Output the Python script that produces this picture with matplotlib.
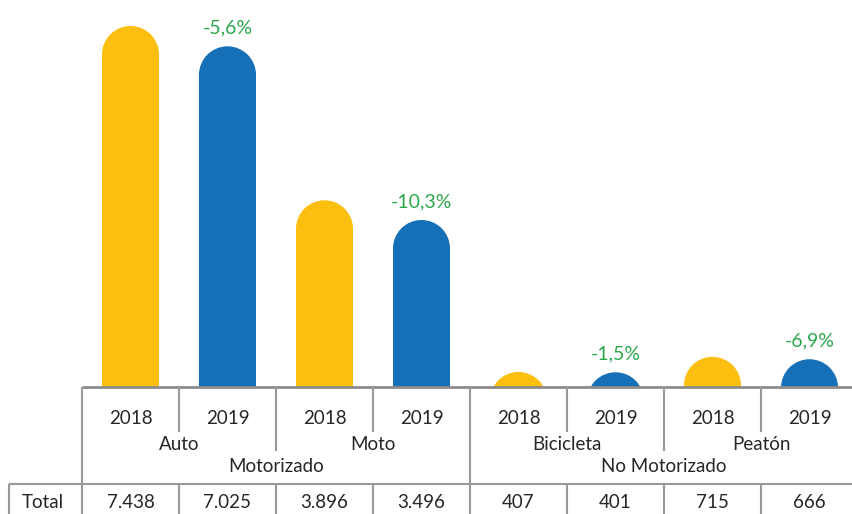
import matplotlib
matplotlib.use("Agg")
import matplotlib.pyplot as plt
from matplotlib.patches import Ellipse

plt.rcParams['font.family'] = ['Lato', 'DejaVu Sans']

# ---- data ----
years = ["2018", "2019", "2018", "2019", "2018", "2019", "2018", "2019"]
categories = ["Auto", "Moto", "Bicicleta", "Peatón"]
groups = ["Motorizado", "No Motorizado"]
values = [7438, 7025, 3896, 3496, 407, 401, 715, 666]
value_labels = ["7.438", "7.025", "3.896", "3.496", "407", "401", "715", "666"]
pct_labels = ["", "-5,6%", "", "-10,3%", "", "-1,5%", "", "-6,9%"]
row_label = "Total"

YELLOW = "#FCBF10"
BLUE = "#1570B8"
GREEN = "#2BA84A"
GRID = "#999999"
TXT = "#262626"

W, H = 852, 514
fig = plt.figure(figsize=(W / 100, H / 100), dpi=100)

LEFT_PX = 82
SLOT_PX = 97
BASE_PX = 387
n = len(values)

# main bar axes
ax = fig.add_axes([LEFT_PX / W, (H - BASE_PX) / H, n * SLOT_PX / W, BASE_PX / H])
ax.set_xlim(-0.5, n - 0.5)
y0, y1 = 101.6, 7966
ax.set_ylim(y0, y1)
ax.axis('off')

px_per_unit = BASE_PX / (y1 - y0)
bar_w = 0.588
r_px = bar_w * SLOT_PX / 2
ry = r_px / px_per_unit

for i, v in enumerate(values):
    c = YELLOW if i % 2 == 0 else BLUE
    ax.bar(i, v - ry, width=bar_w, bottom=0, color=c, linewidth=0)
    e = Ellipse((i, v - ry), width=bar_w, height=2 * ry, facecolor=c, linewidth=0)
    ax.add_patch(e)
    if pct_labels[i]:
        ax.annotate(pct_labels[i], xy=(i, v), xytext=(0, 9.4), textcoords='offset points',
                    ha='center', va='baseline', color=GREEN, fontsize=14)

# table overlay in pixel coords
t = fig.add_axes([0, 0, 1, 1], zorder=5)
t.set_xlim(0, W)
t.set_ylim(H, 0)
t.axis('off')
t.patch.set_alpha(0)

lw = 1.5
def vline(x, ya, yb):
    t.plot([x, x], [ya, yb], color=GRID, lw=lw, solid_capstyle='butt')
def hline(y, xa, xb, lwid=lw, col=GRID):
    t.plot([xa, xb], [y, y], color=col, lw=lwid, solid_capstyle='butt')

hline(BASE_PX, LEFT_PX, W + 10, lwid=2.0, col="#8C8C8C")
hline(484, 9, W + 10)
vline(9, 484, H + 5)

for k in range(n + 1):
    x = LEFT_PX + SLOT_PX * k
    if k % 4 == 0:
        vline(x, BASE_PX, H + 5)
    elif k % 2 == 0:
        vline(x, BASE_PX, 451)
        vline(x, 484, H + 5)
    else:
        vline(x, BASE_PX, 432)
        vline(x, 484, H + 5)

fs = 13.5
for i, y in enumerate(years):
    cx = LEFT_PX + SLOT_PX * (i + 0.5)
    t.text(cx, 419, y, ha='center', va='center', fontsize=fs, color=TXT)
    t.text(cx, 503, value_labels[i], ha='center', va='center', fontsize=fs, color=TXT)
for j, c in enumerate(categories):
    cx = LEFT_PX + SLOT_PX * (2 * j + 1)
    t.text(cx, 445, c, ha='center', va='center', fontsize=fs, color=TXT)
for j, g in enumerate(groups):
    cx = LEFT_PX + SLOT_PX * (4 * j + 2)
    t.text(cx, 467, g, ha='center', va='center', fontsize=fs, color=TXT)
t.text(43, 503, row_label, ha='center', va='center', fontsize=fs, color=TXT)

fig.savefig("out.png", dpi=100)
